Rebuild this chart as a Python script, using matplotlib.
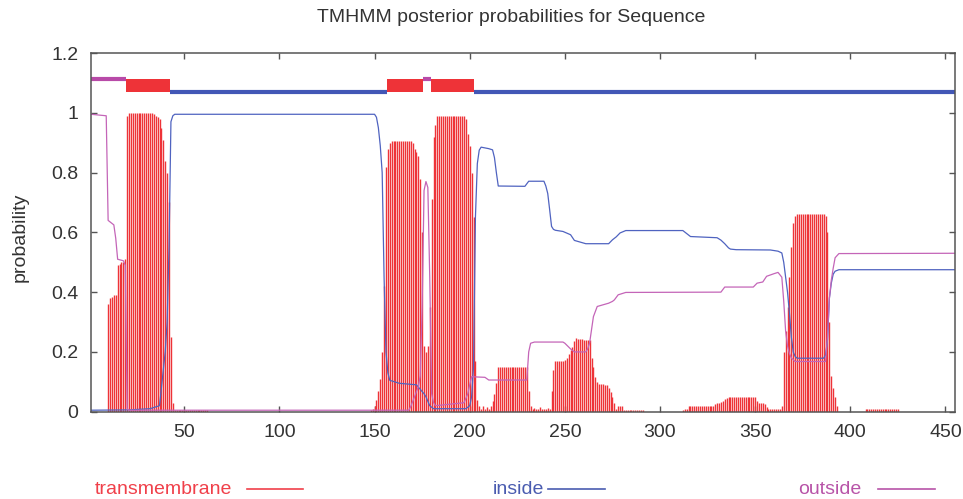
import matplotlib
matplotlib.use("Agg")
import matplotlib.pyplot as plt
from matplotlib.lines import Line2D

plt.rcParams['font.family'] = ['Liberation Sans', 'DejaVu Sans']

seq_len = 455

# transmembrane posterior, per residue: (first residue)
tm_segments = [
    (10, [0.36, 0.38, 0.385, 0.39, 0.39, 0.49, 0.495, 0.50, 0.50, 0.51, 0.99]),
    (21, [1.0] * 12 + [0.998, 0.995, 0.99, 0.985, 0.98, 0.95, 0.91, 0.84, 0.80, 0.70, 0.25, 0.03]),
    (45, [0.006] * 18),
    (148, [0.005, 0.01, 0.02, 0.04, 0.07, 0.11, 0.20, 0.42, 0.82, 0.88, 0.90]),
    (159, [0.905] * 11),
    (170, [0.90, 0.88, 0.87, 0.855, 0.78, 0.60, 0.22, 0.20, 0.22, 0.35, 0.71, 0.92, 0.96]),
    (183, [0.99] * 15),
    (198, [0.98, 0.93, 0.89, 0.80, 0.65, 0.17, 0.04, 0.02, 0.01, 0.02, 0.01, 0.015, 0.01,
           0.02, 0.035, 0.06, 0.095]),
    (215, [0.149] * 16),
    (231, [0.07, 0.02, 0.01, 0.012, 0.008, 0.01, 0.015, 0.01, 0.008, 0.01, 0.012, 0.01,
           0.07, 0.14, 0.168, 0.17, 0.17, 0.17, 0.17, 0.172, 0.178, 0.193, 0.205, 0.218, 0.235]),
    (256, [0.246, 0.243, 0.243, 0.243, 0.24, 0.24, 0.24, 0.24, 0.18, 0.15, 0.117, 0.10,
           0.094, 0.094, 0.094, 0.088, 0.088, 0.08, 0.067, 0.05, 0.028, 0.01, 0.02, 0.02, 0.02]),
    (281, [0.006] * 11),
    (312, [0.005, 0.01, 0.01] + [0.02] * 14 + [0.025, 0.028, 0.03, 0.033, 0.035, 0.042, 0.047]),
    (336, [0.05] * 15),
    (351, [0.035, 0.03, 0.03, 0.03, 0.025, 0.015] + [0.008] * 7),
    (364, [0.02, 0.20, 0.27, 0.35, 0.45, 0.55, 0.63, 0.655]),
    (372, [0.66] * 15),
    (387, [0.655, 0.60, 0.30, 0.12, 0.08, 0.05, 0.02]),
    (408, [0.008] * 18),
]

# inside / outside posteriors: (residue, probability) vertices of the curves
inside_pts = [
    (1, 0.005), (21, 0.006), (32, 0.01), (37, 0.02), (38, 0.08), (39, 0.14), (40, 0.2),
    (41, 0.3), (42, 0.55), (43, 0.97), (44, 0.99), (45, 0.995), (150, 0.995), (151, 0.985),
    (152, 0.95), (153, 0.89), (154, 0.80), (155, 0.45), (156, 0.2), (157, 0.13), (158, 0.105),
    (163, 0.095), (172, 0.09), (174, 0.075), (176, 0.06), (177, 0.05), (178, 0.035),
    (179, 0.02), (181, 0.01), (198, 0.01), (200, 0.02), (201, 0.05), (202, 0.15), (203, 0.65),
    (204, 0.83), (205, 0.875), (206, 0.885), (210, 0.88), (212, 0.876), (213, 0.85),
    (214, 0.80), (215, 0.755), (229, 0.754), (231, 0.771), (239, 0.771), (240, 0.755),
    (241, 0.73), (242, 0.676), (243, 0.62), (244, 0.61), (245, 0.607), (249, 0.603),
    (253, 0.592), (255, 0.573), (261, 0.562), (273, 0.562), (275, 0.575), (277, 0.585),
    (279, 0.598), (282, 0.606), (312, 0.606), (314, 0.596), (316, 0.586), (330, 0.582),
    (332, 0.574), (334, 0.562), (336, 0.548), (337, 0.544), (340, 0.542), (358, 0.541),
    (362, 0.537), (364, 0.531), (365, 0.50), (366, 0.45), (367, 0.40), (368, 0.33),
    (369, 0.25), (370, 0.2), (371, 0.185), (372, 0.179), (386, 0.179), (387, 0.19),
    (388, 0.24), (389, 0.38), (390, 0.43), (391, 0.46), (392, 0.47), (394, 0.475), (455, 0.475),
]

outside_pts = [
    (1, 0.995), (9, 0.99), (10, 0.64), (13, 0.625), (14, 0.58), (15, 0.51), (18, 0.505),
    (19, 0.49), (20, 0.01), (21, 0.005), (168, 0.005), (169, 0.017), (171, 0.05), (173, 0.084),
    (174, 0.12), (175, 0.35), (176, 0.74), (177, 0.77), (178, 0.75), (179, 0.45), (180, 0.06),
    (181, 0.03), (182, 0.02), (197, 0.03), (199, 0.06), (200, 0.09), (201, 0.117), (208, 0.115),
    (210, 0.106), (230, 0.106), (231, 0.2), (232, 0.229), (234, 0.233), (249, 0.233),
    (250, 0.229), (253, 0.21), (255, 0.2), (261, 0.2), (262, 0.21), (263, 0.23), (265, 0.318),
    (267, 0.352), (273, 0.363), (275, 0.369), (276, 0.374), (278, 0.391), (282, 0.399),
    (332, 0.40), (334, 0.417), (349, 0.417), (351, 0.43), (354, 0.434), (356, 0.453),
    (360, 0.462), (362, 0.466), (364, 0.45), (365, 0.37), (366, 0.27), (367, 0.22),
    (368, 0.195), (369, 0.18), (371, 0.168), (387, 0.168), (388, 0.25), (389, 0.38),
    (390, 0.44), (391, 0.48), (392, 0.515), (394, 0.529), (455, 0.53),
]

# predicted topology shown above the curves
topology = [
    ("outside", 1, 19), ("TM", 20, 42), ("inside", 43, 156), ("TM", 157, 175),
    ("outside", 176, 179), ("TM", 180, 202), ("inside", 203, 455),
]

xticks = [50, 100, 150, 200, 250, 300, 350, 400, 450]
yticks = [0, 0.2, 0.4, 0.6, 0.8, 1.0, 1.2]
ytick_labels = ["0", "0.2", "0.4", "0.6", "0.8", "1", "1.2"]

red = "#ee3338"
blue = "#4f63c0"
magenta = "#c465b8"
top_blue = "#4257b6"
top_magenta = "#b84aa8"

tm = [0.0] * seq_len
for start, vals in tm_segments:
    for i, v in enumerate(vals):
        tm[start - 1 + i] = v
residues = list(range(1, seq_len + 1))

fig = plt.figure(figsize=(9.63, 4.99), dpi=100)
ax = fig.add_axes([91 / 963, 87.3 / 499, 864 / 963, 358.7 / 499])

ax.vlines(residues, 0, tm, color=red, lw=1.0)
ix, iy = zip(*inside_pts)
ox, oy = zip(*outside_pts)
ax.plot(ix, iy, color=blue, lw=0.9)
ax.plot(ox, oy, color=magenta, lw=0.9)

for kind, s, e in topology:
    if kind == "TM":
        ax.fill_between([s - 0.5, e + 0.5], 1.069, 1.113, color=red, lw=0)
    elif kind == "inside":
        ax.plot([s - 0.5, e + 0.5], [1.069, 1.069], color=top_blue, lw=3, solid_capstyle="butt")
    else:
        ax.plot([s - 0.5, e + 0.5], [1.113, 1.113], color=top_magenta, lw=3, solid_capstyle="butt")

ax.set_xlim(1, seq_len)
ax.set_ylim(0, 1.2)
ax.set_xticks(xticks)
ax.set_yticks(yticks)
ax.set_yticklabels(ytick_labels)
ax.tick_params(direction="in", top=True, right=True, length=4, width=1,
               color="#555555", labelsize=14, labelcolor="#333333", pad=9)
for sp in ax.spines.values():
    sp.set_color("#555555")
    sp.set_linewidth(1.1)

fig.text(511 / 963, 1 - 18 / 499, "TMHMM posterior probabilities for Sequence",
         ha="center", va="center", fontsize=14, color="#333333")
fig.text(20 / 963, 1 - 237 / 499, "probability", rotation=90,
         ha="center", va="center", fontsize=14, color="#333333")

legend_y = 1 - 489 / 499
for label, color, tx, x0, x1 in [("transmembrane", "#f0404a", 95, 247, 303),
                                 ("inside", "#4a5cb0", 493, 548, 605),
                                 ("outside", "#b854a8", 798, 878, 935)]:
    fig.text(tx / 963, legend_y, label, ha="left", va="center", fontsize=14, color=color)
    fig.add_artist(Line2D([x0 / 963, x1 / 963], [legend_y, legend_y],
                          transform=fig.transFigure, color=color, lw=1.2))

fig.savefig("out.png", dpi=100)
